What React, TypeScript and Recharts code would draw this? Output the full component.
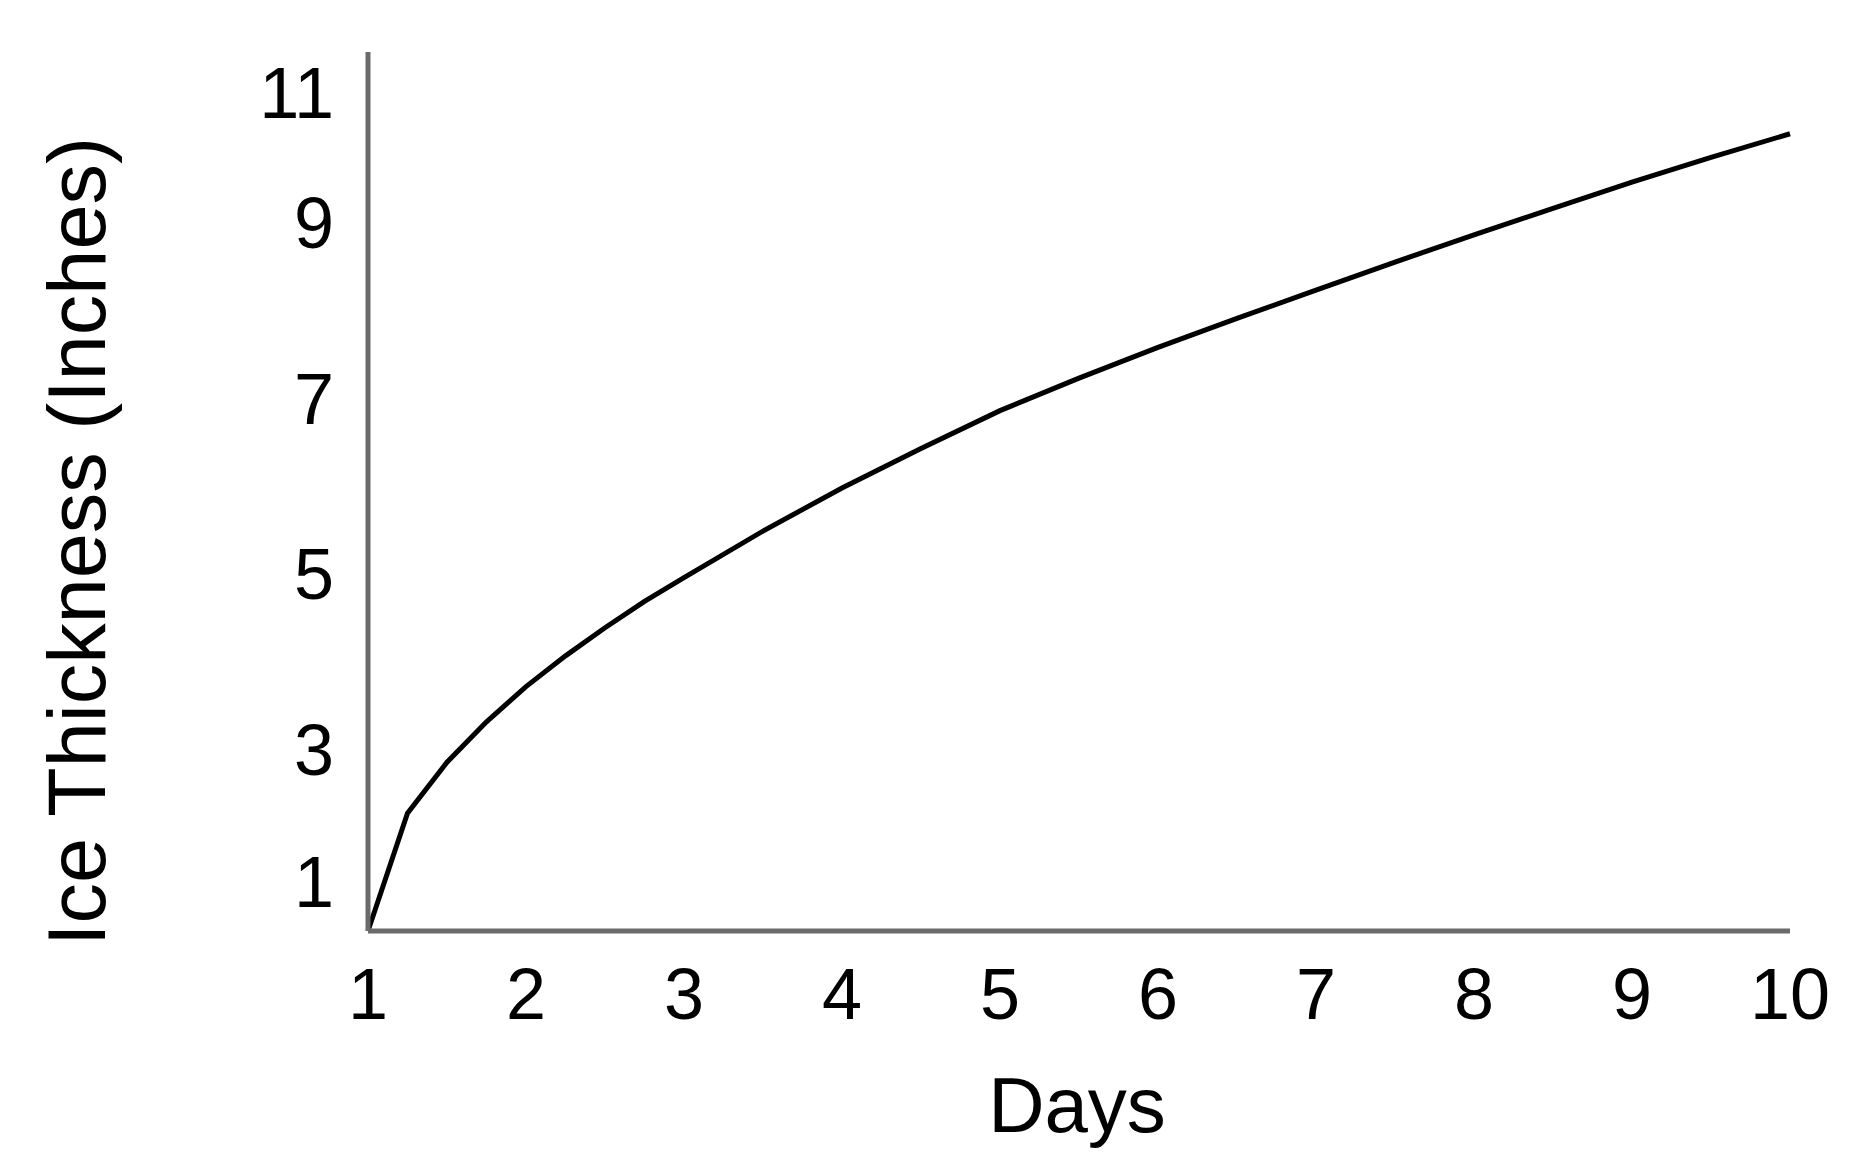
// Ice thickness growth over ten days - single black line on grey L-axes.

import * as React from 'react'
import { Label, Line, LineChart, XAxis, YAxis } from 'recharts'

const DAYS = [1, 1.25, 1.5, 1.75, 2, 2.25, 2.5, 2.75, 3, 3.5, 4, 4.5, 5, 5.5, 6, 6.5, 7, 7.5, 8, 8.5, 9, 9.5, 10]
const THICKNESS = [
  1.0, 2.34, 2.92, 3.38, 3.78, 4.13, 4.45, 4.75, 5.02, 5.55, 6.04, 6.49, 6.92, 7.29, 7.64, 7.97, 8.29, 8.61,
  8.92, 9.22, 9.52, 9.8, 10.07
]
const X_TICKS = [1, 2, 3, 4, 5, 6, 7, 8, 9, 10]
const Y_TICKS = [1, 3, 5, 7, 9, 11]

const FONT = '"Liberation Sans", Arial, sans-serif'
const AXIS = '#6b6b6b'

const data = DAYS.map((d, i) => ({ day: d, thickness: THICKNESS[i] }))

function XTick({ x, y, payload }: { x?: number; y?: number; payload?: { value: number } }) {
  return (
    <text x={x} y={(y ?? 0) + 88} textAnchor="middle" fontSize={72} fontFamily={FONT} fill="#000">
      {payload?.value}
    </text>
  )
}

// end labels sit pulled inward from the axis ends, as in the source
function YTick({ x, y, payload }: { x?: number; y?: number; payload?: { value: number } }) {
  const v = payload?.value
  const dy = v === 11 ? 66 : v === 1 ? -24 : 20
  return (
    <text x={(x ?? 0) - 34} y={(y ?? 0) + dy} textAnchor="end" fontSize={72} fontFamily={FONT} fill="#000">
      {v}
    </text>
  )
}

function YTitle(props: any) {
  const vb = props.viewBox ?? { x: 0, y: 0, width: 0, height: 0 }
  const cx = 77
  const cy = vb.y + vb.height / 2 + 50
  return (
    <text
      x={cx}
      y={cy}
      transform={`rotate(-90 ${cx} ${cy})`}
      textAnchor="middle"
      dominantBaseline="central"
      fontSize={81}
      fontFamily={FONT}
      fill="#000"
    >
      Ice Thickness (Inches)
    </text>
  )
}

function XTitle(props: any) {
  const vb = props.viewBox ?? { x: 0, y: 0, width: 0, height: 0 }
  return (
    <text x={vb.x + vb.width / 2 - 2} y={vb.y + 201} textAnchor="middle" fontSize={78} fontFamily={FONT} fill="#000">
      Days
    </text>
  )
}

export default function App() {
  return (
    <div style={{ position: 'absolute', left: 0, top: 0, width: 1868, height: 1174, background: '#fff' }}>
      <LineChart width={1868} height={1174} data={data} margin={{ top: 52, right: 78, bottom: 0, left: 0 }}>
        <XAxis
          type="number"
          dataKey="day"
          domain={[1, 10]}
          ticks={X_TICKS}
          height={243}
          tickLine={false}
          tickSize={0}
          tickMargin={0}
          axisLine={{ stroke: AXIS, strokeWidth: 5 }}
          tick={<XTick />}
        >
          <Label content={<XTitle />} />
        </XAxis>
        <YAxis
          type="number"
          domain={[1, 11]}
          ticks={Y_TICKS}
          width={368}
          tickLine={false}
          tickSize={0}
          tickMargin={0}
          axisLine={{ stroke: AXIS, strokeWidth: 5 }}
          tick={<YTick />}
        >
          <Label content={<YTitle />} />
        </YAxis>
        <Line
          type="linear"
          dataKey="thickness"
          stroke="#000"
          strokeWidth={5}
          dot={false}
          activeDot={false}
          isAnimationActive={false}
        />
      </LineChart>
    </div>
  )
}
